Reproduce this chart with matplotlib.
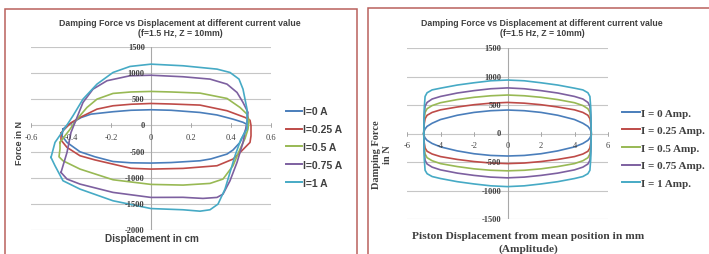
import matplotlib
matplotlib.use("Agg")
import matplotlib.pyplot as plt
from matplotlib.lines import Line2D
from matplotlib.patches import Rectangle

# colours of the five current levels (Excel 2007 palette)
COLORS = ["#4A7EBB", "#BE4B48", "#98B954", "#7D60A0", "#46AAC5"]

TITLE_1 = "Damping Force vs Displacement at different current value"
TITLE_2 = "(f=1.5 Hz, Z = 10mm)"

# ---- left chart: measured loops, displacement in cm ----
LEFT_LABELS = ["I=0 A", "I=0.25 A", "I=0.5 A", "I=0.75 A", "I=1 A"]
LEFT_XTICKS = [-0.6, -0.4, -0.2, 0, 0.2, 0.4, 0.6]
LEFT_XTICK_LABELS = ["-0.6", "-0.4", "-0.2", "0", "0.2", "0.4", "0.6"]
LEFT_YTICKS = [1500, 1000, 500, 0, -500, -1000, -1500, -2000]

left_x_i0 = [-0.44, -0.42, -0.40, -0.35, -0.30, -0.19, -0.10, 0.0, 0.10, 0.245, 0.33, 0.41,
             0.46, 0.48, 0.475, 0.46, 0.445, 0.41, 0.38, 0.30, 0.245, 0.10, 0.0, -0.10,
             -0.19, -0.28, -0.355, -0.42, -0.445, -0.44]
left_f_i0 = [-70, 0, 40, 150, 216, 262, 290, 300, 290, 248, 200, 120,
             60, 20, -70, -200, -325, -470, -548, -640, -676, -710, -720, -715,
             -690, -600, -504, -325, -200, -70]

left_x_i25 = [-0.45, -0.44, -0.40, -0.355, -0.27, -0.19, -0.10, 0.0, 0.10, 0.245, 0.38, 0.47,
              0.495, 0.50, 0.50, 0.495, 0.45, 0.41, 0.33, 0.16, 0.0, -0.10, -0.19, -0.28,
              -0.355, -0.42, -0.45, -0.45]
left_f_i25 = [-150, -100, 50, 153, 312, 376, 405, 420, 410, 389, 281, 153,
              100, 0, -200, -325, -500, -644, -771, -822, -835, -820, -740, -660,
              -580, -420, -280, -150]

left_x_i50 = [-0.455, -0.43, -0.41, -0.37, -0.32, -0.27, -0.19, -0.10, 0.0, 0.10, 0.245, 0.38,
              0.445, 0.48, 0.49, 0.485, 0.47, 0.445, 0.41, 0.36, 0.295, 0.16, 0.0, -0.19,
              -0.355, -0.44, -0.46, -0.455, -0.455]
left_f_i50 = [-325, -197, -100, 120, 344, 503, 612, 640, 650, 640, 618, 516,
              344, 216, 100, -70, -250, -453, -771, -1026, -1109, -1141, -1128, -1039,
              -835, -676, -600, -450, -325]

left_x_i75 = [-0.45, -0.44, -0.42, -0.41, -0.40, -0.37, -0.34, -0.29, -0.22, -0.105, 0.0, 0.16,
              0.295, 0.38, 0.43, 0.46, 0.485, 0.48, 0.46, 0.43, 0.395, 0.36, 0.33, 0.26,
              0.16, 0.0, -0.19, -0.355, -0.42, -0.45]
left_f_i75 = [-899, -771, -516, -325, -134, 153, 440, 694, 855, 950, 960, 931,
              886, 790, 631, 440, 249, 57, -325, -708, -1058, -1314, -1377, -1396,
              -1375, -1377, -1281, -1122, -1026, -899]

left_x_i100 = [-0.50, -0.48, -0.43, -0.39, -0.34, -0.27, -0.19, -0.105, 0.0, 0.16, 0.33, 0.395,
               0.44, 0.46, 0.48, 0.48, 0.45, 0.42, 0.395, 0.37, 0.335, 0.295, 0.245, 0.16,
               0.0, -0.19, -0.355, -0.44, -0.48, -0.50]
left_f_i100 = [-612, -325, -50, 185, 503, 790, 1013, 1128, 1172, 1141, 1077, 1013,
               886, 694, 312, -70, -262, -580, -899, -1218, -1505, -1613, -1640, -1613,
               -1590, -1441, -1218, -1058, -771, -612]

LEFT_X = [left_x_i0, left_x_i25, left_x_i50, left_x_i75, left_x_i100]
LEFT_F = [left_f_i0, left_f_i25, left_f_i50, left_f_i75, left_f_i100]

# ---- right chart: simulated loops, displacement in mm ----
RIGHT_LABELS = ["I = 0 Amp.", "I = 0.25 Amp.", "I = 0.5 Amp.", "I = 0.75 Amp.", "I = 1 Amp."]
RIGHT_XTICKS = [-6, -4, -2, 0, 2, 4, 6]
RIGHT_YTICKS = [1500, 1000, 500, 0, -500, -1000, -1500]

right_x = [-5, -4.97, -4.92, -4.8, -4.5, -4, -3, -2, -1, 0, 1, 2, 3, 4, 4.5, 4.8, 4.92, 4.97, 5]

right_up_i0 = [0, 45, 80, 125, 180, 245, 320, 370, 400, 412, 400, 370, 320, 245, 180, 125, 80, 45, 0]
right_up_i25 = [0, 170, 260, 320, 370, 415, 465, 505, 532, 545, 532, 505, 465, 415, 370, 320, 260, 170, 0]
right_up_i50 = [0, 250, 370, 435, 490, 540, 595, 635, 662, 675, 662, 635, 595, 540, 490, 435, 370, 250, 0]
right_up_i75 = [0, 330, 480, 545, 605, 650, 710, 752, 785, 800, 785, 752, 710, 650, 605, 545, 480, 330, 0]
right_up_i100 = [0, 450, 650, 715, 765, 795, 850, 890, 925, 938, 925, 890, 850, 795, 765, 715, 650, 450, 0]

right_lo_i0 = [0, -45, -78, -120, -175, -235, -305, -355, -385, -395, -385, -355, -305, -235, -175, -120, -78, -45, 0]
right_lo_i25 = [0, -165, -255, -312, -360, -405, -455, -492, -518, -528, -518, -492, -455, -405, -360, -312, -255, -165, 0]
right_lo_i50 = [0, -245, -360, -425, -478, -528, -580, -620, -645, -655, -645, -620, -580, -528, -478, -425, -360, -245, 0]
right_lo_i75 = [0, -325, -470, -535, -590, -638, -695, -735, -765, -778, -765, -735, -695, -638, -590, -535, -470, -325, 0]
right_lo_i100 = [0, -445, -645, -705, -755, -790, -845, -885, -918, -932, -918, -885, -845, -790, -755, -705, -645, -445, 0]

RIGHT_UP = [right_up_i0, right_up_i25, right_up_i50, right_up_i75, right_up_i100]
RIGHT_LO = [right_lo_i0, right_lo_i25, right_lo_i50, right_lo_i75, right_lo_i100]

W, H = 709, 255
GRID = "#C6C6C6"
TXT = "#404040"
BORDER = "#B9605C"
SANS = "Liberation Sans"
SERIF = "Liberation Serif"


def fx(px):
    return px / W


def fy(py):
    return 1 - py / H


def add_axes(fig, x0, x1, y0, y1):
    # pixel box -> axes (y0 top, y1 bottom)
    return fig.add_axes([fx(x0), fy(y1), fx(x1 - x0), (y1 - y0) / H])


def style_axes(ax, xlim, ylim, xticks, xlabels, yticks):
    ax.set_xlim(*xlim)
    ax.set_ylim(*ylim)
    for s in ax.spines.values():
        s.set_visible(False)
    ax.set_xticks([])
    ax.set_yticks([])
    ax.patch.set_alpha(0)
    for y in yticks:
        ax.axhline(y, color=GRID, lw=0.8, zorder=0)
    ax.axvline(0, color="#A8A8A8", lw=0.8, zorder=0)
    for x, lbl in zip(xticks, xlabels):
        ax.annotate(lbl, (x, 0), xytext=(0, -5.5), textcoords="offset points",
                    ha="center", va="top", fontsize=6, family=SERIF, color=TXT)
        ax.plot([x, x], [0, 0], marker="|", ms=3, color="#A8A8A8", mew=0.7)
    for y in yticks:
        ax.annotate(str(y), (0, y), xytext=(-4.5, 0), textcoords="offset points",
                    ha="right", va="center", fontsize=6, family=SERIF,
                    weight="bold", color=TXT)


fig = plt.figure(figsize=(W / 100, H / 100), dpi=100)
fig.patch.set_facecolor("white")

# panel borders
fig.add_artist(Rectangle((fx(5), fy(262)), fx(352), (262 - 10) / H, transform=fig.transFigure,
                         fill=False, ec=BORDER, lw=1.1))
fig.add_artist(Rectangle((fx(368), fy(262)), fx(360), (262 - 9) / H, transform=fig.transFigure,
                         fill=False, ec=BORDER, lw=1.1))

# left chart
axl = add_axes(fig, 31, 271, 48, 231)
style_axes(axl, (-0.6, 0.6), (-2000, 1500), LEFT_XTICKS, LEFT_XTICK_LABELS, LEFT_YTICKS)
for xs, fs, c in zip(LEFT_X, LEFT_F, COLORS):
    axl.plot(xs, fs, color=c, lw=1.2, solid_joinstyle="round")

fig.text(fx(180), fy(23), TITLE_1, ha="center", va="center", fontsize=6.3,
         family=SANS, weight="bold", color=TXT)
fig.text(fx(180), fy(33), TITLE_2, ha="center", va="center", fontsize=6.3,
         family=SANS, weight="bold", color=TXT)
fig.text(fx(152), fy(239), "Displacement in cm", ha="center", va="center", fontsize=7.2,
         family=SANS, weight="bold", color=TXT)
fig.text(fx(19), fy(143), "Force in N", ha="center", va="center", rotation=90,
         fontsize=6.5, family=SANS, weight="bold", color=TXT)

handles = [Line2D([], [], color=c, lw=1.4) for c in COLORS]
fig.legend(handles, LEFT_LABELS, loc="center left", bbox_to_anchor=(fx(286), fy(148)),
           frameon=False, handlelength=1.5, handletextpad=0.1,
           labelspacing=0.75, borderpad=0, borderaxespad=0,
           prop={"family": SANS, "weight": "bold", "size": 7.5}, labelcolor=TXT)

# right chart
axr = add_axes(fig, 407, 608, 49, 220)
style_axes(axr, (-6, 6), (-1500, 1500), RIGHT_XTICKS, [str(v) for v in RIGHT_XTICKS], RIGHT_YTICKS)
for up, lo, c in zip(RIGHT_UP, RIGHT_LO, COLORS):
    axr.plot(right_x + right_x[::-1], up + lo[::-1], color=c, lw=1.2, solid_joinstyle="round")

fig.text(fx(542), fy(23), TITLE_1, ha="center", va="center", fontsize=6.3,
         family=SANS, weight="bold", color=TXT)
fig.text(fx(542), fy(34), TITLE_2, ha="center", va="center", fontsize=6.3,
         family=SANS, weight="bold", color=TXT)
fig.text(fx(528), fy(236.5), "Piston Displacement from mean position in mm", ha="center",
         va="center", fontsize=8.2, family=SERIF, weight="bold", color=TXT)
fig.text(fx(528), fy(249.5), "(Amplitude)", ha="center", va="center", fontsize=8.2,
         family=SERIF, weight="bold", color=TXT)
fig.text(fx(382), fy(155), "Damping Force\nin N", ha="center", va="center", rotation=90,
         fontsize=7.5, family=SERIF, weight="bold", color=TXT, linespacing=1.25)

fig.legend(handles, RIGHT_LABELS, loc="center left", bbox_to_anchor=(fx(622), fy(149)),
           frameon=False, handlelength=1.6, handletextpad=0.1,
           labelspacing=0.7, borderpad=0, borderaxespad=0,
           prop={"family": SERIF, "weight": "bold", "size": 8}, labelcolor=TXT)

fig.savefig("out.png", dpi=100)
